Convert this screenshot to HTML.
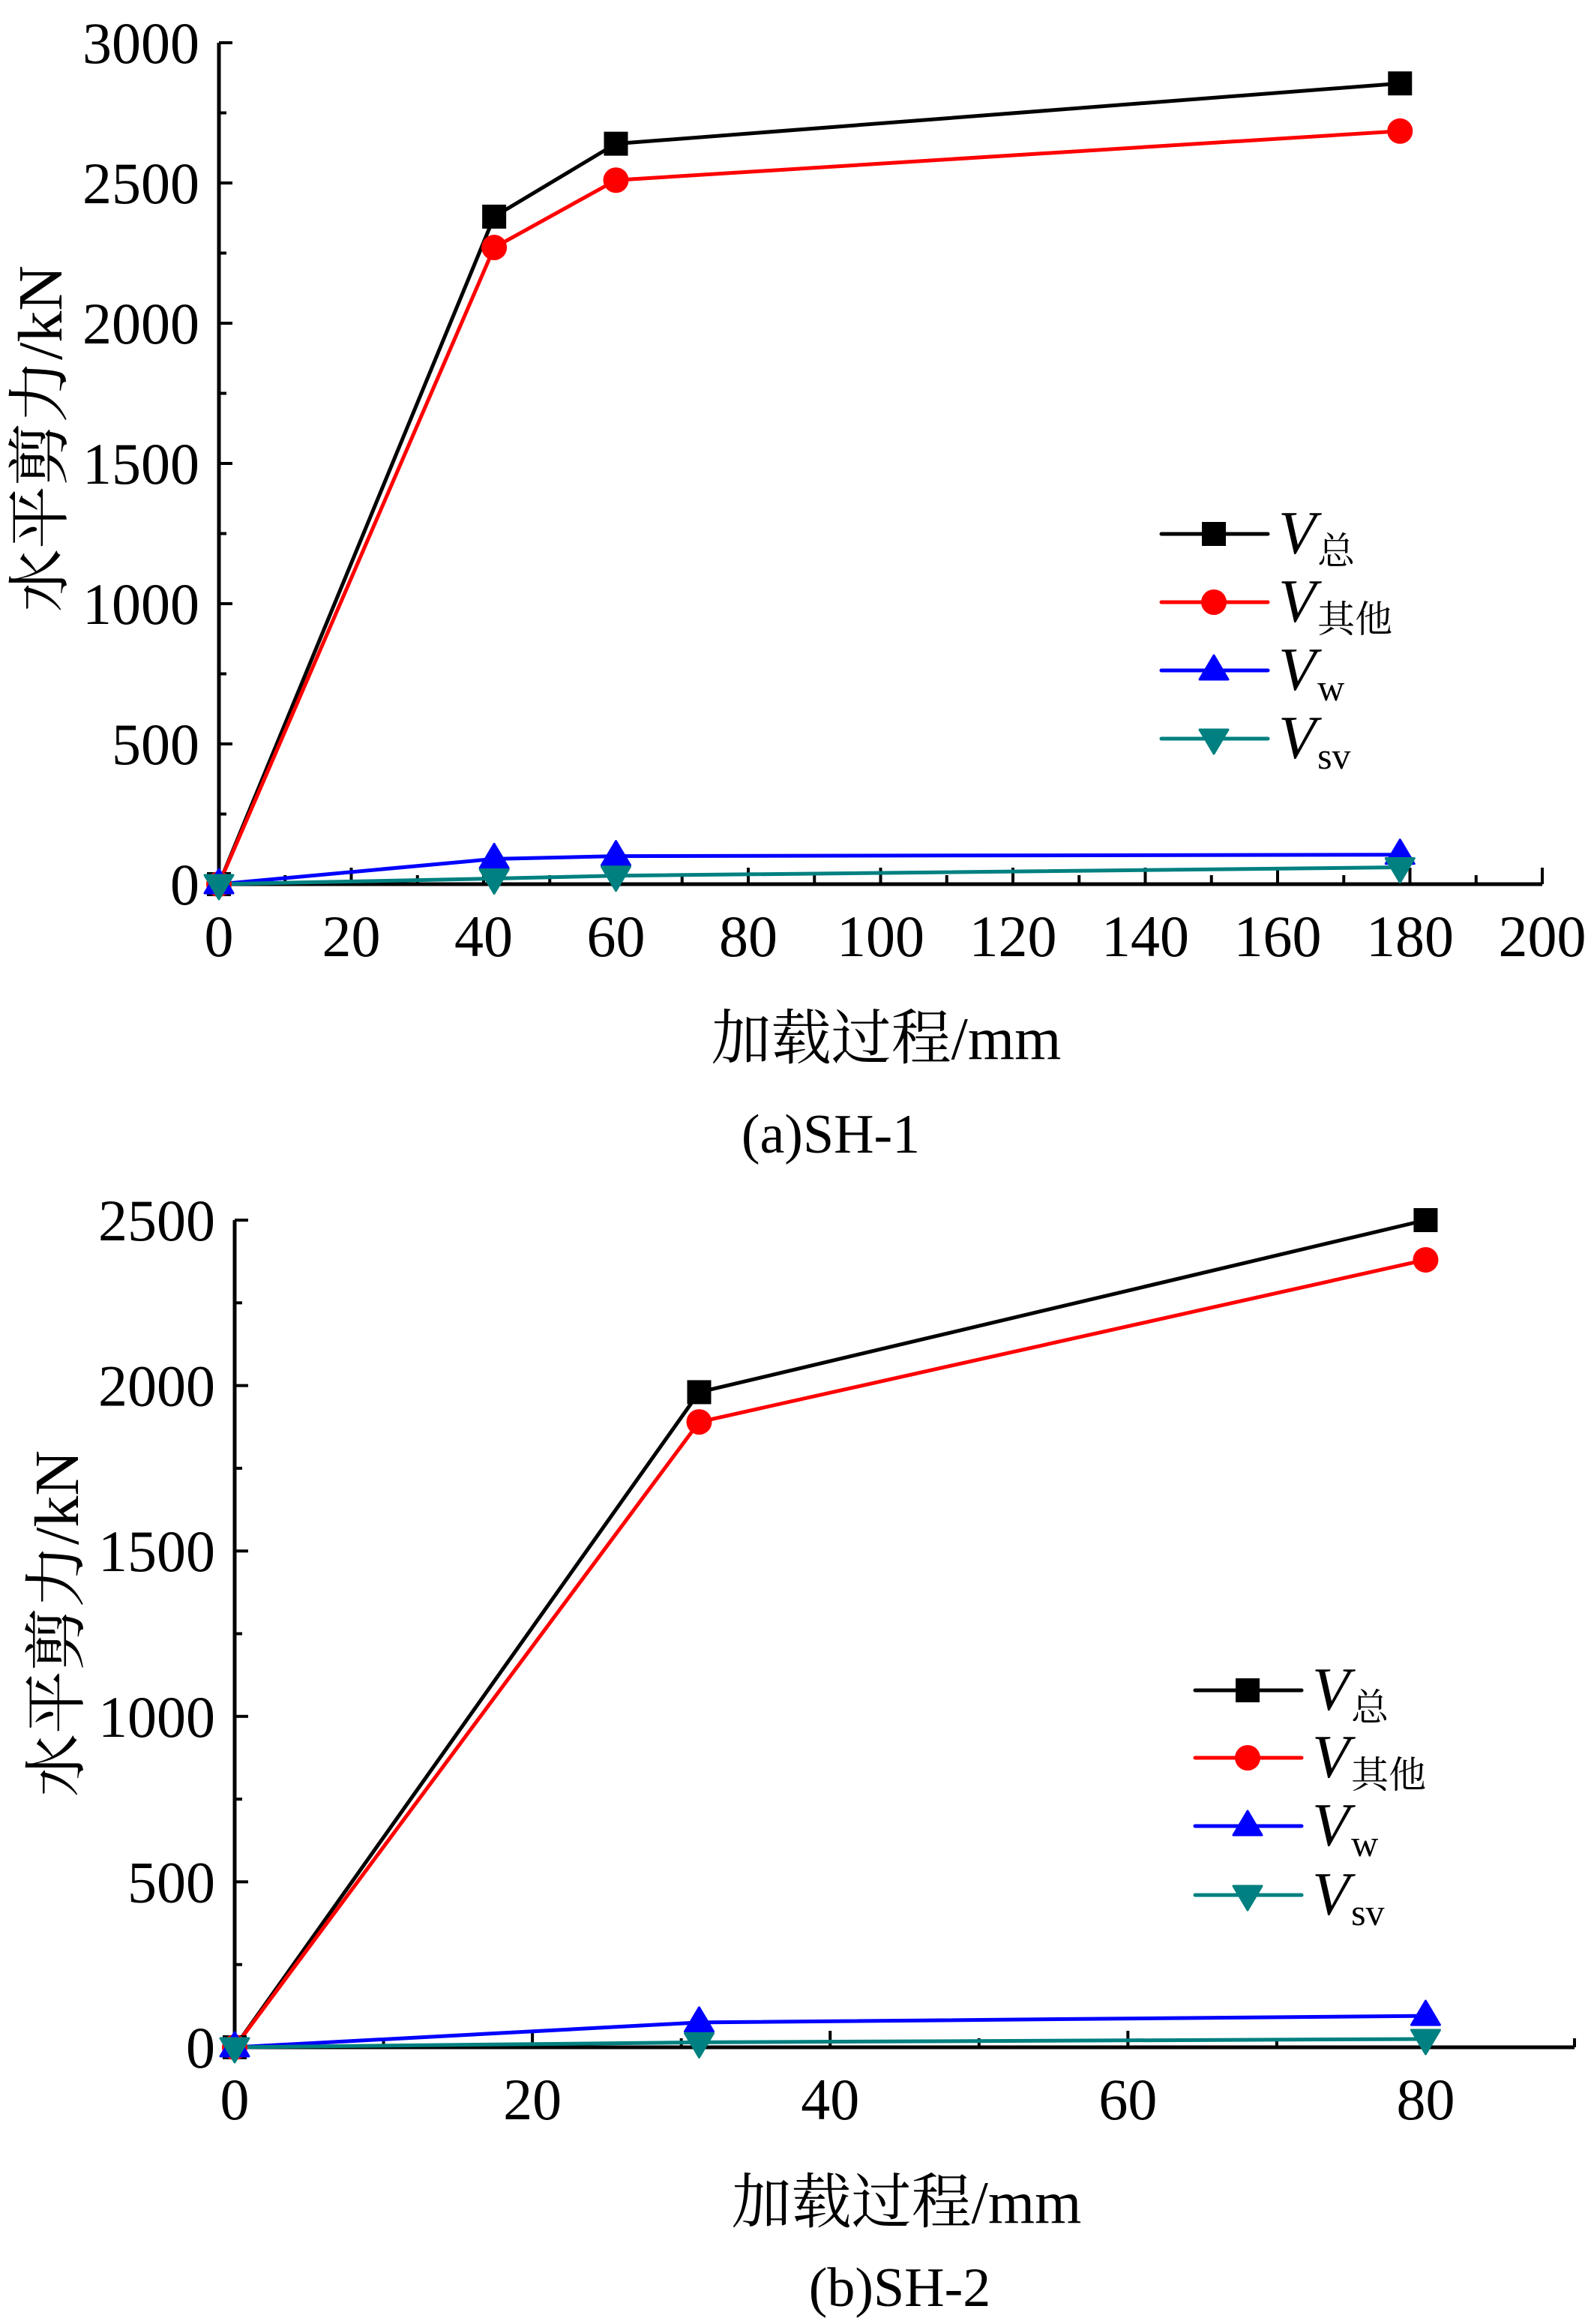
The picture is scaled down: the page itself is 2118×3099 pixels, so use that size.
<!DOCTYPE html>
<html><head><meta charset="utf-8"><style>
html,body{margin:0;padding:0;background:#fff}
svg{display:block}
text{font-family:"Liberation Serif","Noto Serif CJK SC",serif;fill:#000}
</style></head><body>
<svg id="svg" width="2118" height="3099" viewBox="0 0 2118 3099" xmlns="http://www.w3.org/2000/svg"></svg>
<script>
// Chart A (SH-1)
const aX = [0, 41.6, 60, 178.5];
const aTotal = [0, 2380, 2640, 2855];
const aOther = [0, 2270, 2510, 2685];
const aW = [0, 90, 100, 105];
const aSV = [0, 20, 30, 60];
const aXTicks = [0, 20, 40, 60, 80, 100, 120, 140, 160, 180, 200];
const aYTicks = [0, 500, 1000, 1500, 2000, 2500, 3000];
// Chart B (SH-2)
const bX = [0, 31.2, 80];
const bTotal = [0, 1980, 2500];
const bOther = [0, 1890, 2380];
const bW = [0, 75, 95];
const bSV = [0, 15, 25];
const bXTicks = [0, 20, 40, 60, 80];
const bYTicks = [0, 500, 1000, 1500, 2000, 2500];

const NS = "http://www.w3.org/2000/svg";
const svg = document.getElementById('svg');
function mk(tag, attrs, parent) {
  const e = document.createElementNS(NS, tag);
  for (const k in attrs) e.setAttribute(k, attrs[k]);
  (parent || svg).appendChild(e);
  return e;
}
const colors = {total:'#000000', other:'#ff0000', w:'#0000ff', sv:'#008080'};

function marker(g, type, x, y, c) {
  let m;
  if (type === 'square') m = mk('rect', {x:x-16, y:y-16, width:32, height:32, fill:c}, g);
  else if (type === 'circle') m = mk('circle', {cx:x, cy:y, r:17, fill:c}, g);
  else if (type === 'up') m = mk('polygon', {points:`${x},${y-20} ${x+19},${y+12} ${x-19},${y+12}`, fill:c, 'stroke':c, 'stroke-width':3, 'stroke-linejoin':'round'}, g);
  else m = mk('polygon', {points:`${x},${y+20} ${x+19},${y-12} ${x-19},${y-12}`, fill:c, 'stroke':c, 'stroke-width':3, 'stroke-linejoin':'round'}, g);
  
  
}

function chart(cfg) {
  const g = mk('g', {});
  
  
  const sx = v => cfg.x0 + (v - 0) / cfg.xmax * (cfg.x1 - cfg.x0);
  const sy = v => cfg.y0 - v / cfg.ymax * (cfg.y0 - cfg.y1);
  const ax = mk('line', {x1:cfg.x0, y1:cfg.y1, x2:cfg.x0, y2:cfg.y0+2, stroke:'#000', 'stroke-width':5}, g);
   
  const axx = mk('line', {x1:cfg.x0-2, y1:cfg.y0, x2:cfg.x1, y2:cfg.y0, stroke:'#000', 'stroke-width':5}, g);
   
  const ystep = cfg.yTicks[1] - cfg.yTicks[0];
  for (let v = 0; v <= cfg.ymax + 1e-6; v += ystep / 2) {
    const major = Math.abs(v / ystep - Math.round(v / ystep)) < 1e-6;
    const t = mk('line', {x1:cfg.x0, y1:sy(v), x2:cfg.x0 + (major ? 18 : 10), y2:sy(v), stroke:'#000', 'stroke-width':4}, g);
     
  }
  cfg.yTicks.forEach(v => {
    const t = mk('text', {x:cfg.x0 - 26, y:sy(v) + 27, 'font-size':78, 'text-anchor':'end'}, g);
    t.textContent = v;
     
  });
  const xstep = cfg.xTicks[1] - cfg.xTicks[0];
  for (let v = 0; v <= cfg.xmax + 1e-6; v += xstep / 2) {
    const major = Math.abs(v / xstep - Math.round(v / xstep)) < 1e-6;
    const t = mk('line', {x1:sx(v), y1:cfg.y0, x2:sx(v), y2:cfg.y0 - (major ? 22 : 12), stroke:'#000', 'stroke-width':4}, g);
     
  }
  cfg.xTicks.forEach(v => {
    const t = mk('text', {x:sx(v), y:cfg.y0 + 96, 'font-size':78, 'text-anchor':'middle'}, g);
    t.textContent = v;
     
  });
  cfg.series.forEach(s => {
    const pts = cfg.xs.map((x, i) => sx(x) + ',' + sy(s.vals[i])).join(' ');
    const l = mk('polyline', {points:pts, fill:'none', stroke:s.c, 'stroke-width':5, 'stroke-linejoin':'round'}, g);
     
  });
  cfg.series.forEach(s => {
    cfg.xs.forEach((x, i) => marker(g, s.m, sx(x), sy(s.vals[i]), s.c));
  });
  const lg = mk('g', {}, g);
   
  cfg.series.forEach((s, i) => {
    const y = cfg.legY[i];
    const e = mk('g', {}, lg);
     
    mk('line', {x1:cfg.legX, y1:y, x2:cfg.legX + 142, y2:y, stroke:s.c, 'stroke-width':5, 'stroke-linecap':'round'}, e);
    marker(e, s.m, cfg.legX + 70, y, s.c);
    const t = mk('text', {x:cfg.legX + 156, y:y + 26, 'font-size':82}, e);
    const v = mk('tspan', {'font-style':'italic'}, t); v.textContent = 'V';
    const sub = mk('tspan', {'font-size':50, dy:14, dx:2}, t); sub.textContent = s.sub;
  });
  const yt = mk('text', {x:0, y:0, 'font-size':84, 'text-anchor':'middle', transform:`translate(${cfg.ytX},${cfg.ytY}) rotate(-90)`}, g);
  yt.textContent = '水平剪力/kN';
   
  const xt = mk('text', {x:cfg.xtX, y:cfg.xtY, 'font-size':80, 'text-anchor':'middle'}, g);
  xt.textContent = '加载过程/mm';
   
  const cp = mk('text', {x:cfg.cpX, y:cfg.cpY, 'font-size':74, 'text-anchor':'middle'}, g);
  cp.textContent = cfg.caption;
   
}

chart({name:'chart-sh1', x0:292, x1:2057, xmax:200, y0:1179, y1:57, ymax:3000,
  xs:aX, xTicks:aXTicks, yTicks:aYTicks,
  series:[{key:'total', vals:aTotal, c:colors.total, m:'square', sub:'总'},
          {key:'other', vals:aOther, c:colors.other, m:'circle', sub:'其他'},
          {key:'w', vals:aW, c:colors.w, m:'up', sub:'w'},
          {key:'sv', vals:aSV, c:colors.sv, m:'down', sub:'sv'}],
  legX:1549, legY:[712, 803, 894, 985],
  ytX:82, ytY:585, xtX:1182, xtY:1412, cpX:1108, cpY:1537, caption:'(a)SH-1'});

chart({name:'chart-sh2', x0:313, x1:2100, xmax:90, y0:2730, y1:1627, ymax:2500,
  xs:bX, xTicks:bXTicks, yTicks:bYTicks,
  series:[{key:'total', vals:bTotal, c:colors.total, m:'square', sub:'总'},
          {key:'other', vals:bOther, c:colors.other, m:'circle', sub:'其他'},
          {key:'w', vals:bW, c:colors.w, m:'up', sub:'w'},
          {key:'sv', vals:bSV, c:colors.sv, m:'down', sub:'sv'}],
  legX:1594, legY:[2254, 2344, 2435, 2527],
  ytX:104, ytY:2165, xtX:1209, xtY:2964, cpX:1200, cpY:3075, caption:'(b)SH-2'});
</script>
</body></html>
